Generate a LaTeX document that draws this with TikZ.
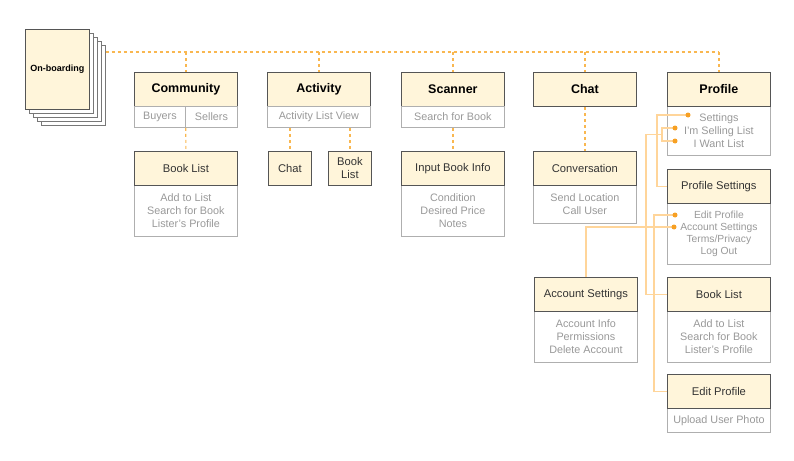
\documentclass[tikz,border=0pt]{standalone}
\usepackage{fontspec}
\setmainfont{Liberation Sans}
\usetikzlibrary{calc}
\definecolor{hdfill}{HTML}{FFF5DA}
\definecolor{edge}{HTML}{555555}
\definecolor{subedge}{HTML}{AFAFAF}
\definecolor{subtxt}{HTML}{999999}
\definecolor{txt}{HTML}{333333}
\definecolor{dotorange}{HTML}{F7A023}
\definecolor{linkorange}{HTML}{FFD59A}
\definecolor{busorange}{HTML}{F9B750}
\begin{document}
\begin{tikzpicture}[x=1pt,y=-1pt,
    hd/.style={draw=edge,fill=hdfill,line width=0.8pt,minimum width=103,minimum height=34,
        inner sep=0,anchor=north west,align=center,text=txt,font=\fontsize{11.2}{13}\selectfont},
    title/.style={hd,text=black,font=\bfseries\fontsize{12.5}{15}\selectfont},
    sb/.style={draw=subedge,fill=white,line width=0.8pt,minimum width=103,minimum height=21,
        inner sep=0,anchor=north west,align=center,text=subtxt,font=\fontsize{10.8}{13}\selectfont},
    card/.style={draw=edge!80,fill=white,line width=0.7pt,minimum width=64,minimum height=80,
        inner sep=0,anchor=north west},
    bus/.style={busorange,line width=1.2pt,dash pattern=on 3pt off 3pt},
    link/.style={linkorange,line width=1.2pt},
    dot/.style={circle,fill=dotorange,inner sep=0,minimum size=5}]
    \useasboundingbox (0,0) rectangle (794,460);
    % on-boarding stack
    \foreach \i in {4,3,2,1}{
        \node[card] (onb\i) at ({25+4*\i},{29+4*\i}) {};
    }
    \node[card,draw=edge,fill=hdfill,font=\bfseries\fontsize{9}{11}\selectfont] (onb) at (25,29) {On-boarding};
    % top level
    \node[title] (comm) at (134,72) {Community};
    \node[sb,minimum width=51] (buy) at (134,106) {Buyers};
    \node[sb,minimum width=52] (sell) at (185,106) {Sellers};
    \node[title] (act) at (267,72) {Activity};
    \node[sb] (actsub) at (267,106) {Activity List View};
    \node[title] (scan) at (401,72) {Scanner};
    \node[sb] (scansub) at (401,106) {Search for Book};
    \node[title] (chat) at (533,72) {Chat};
    \node[sb,minimum height=49] (profsub) at (667,106) {Settings\\I’m Selling List\\I Want List};
    \node[title] (prof) at (667,72) {Profile};
    % second level
    \node[sb,minimum height=51] (bl1sub) at (134,185) {Add to List\\Search for Book\\Lister’s Profile};
    \node[hd] (bl1) at (134,151) {Book List};
    \node[hd,minimum width=43] (achat) at (268,151) {Chat};
    \node[hd,minimum width=43] (abl) at (328,151) {Book\\List};
    \node[sb,minimum height=51] (ibisub) at (401,185) {Condition\\Desired Price\\Notes};
    \node[hd] (ibi) at (401,151) {Input Book Info};
    \node[sb,minimum height=38] (convsub) at (533,185) {Send Location\\Call User};
    \node[hd] (conv) at (533,151) {Conversation};
    \node[sb,minimum height=61,font=\fontsize{10.3}{12}\selectfont] (psetsub) at (667,203) {Edit Profile\\Account Settings\\Terms/Privacy\\Log Out};
    \node[hd] (pset) at (667,169) {Profile Settings};
    \node[sb,minimum height=51] (assub) at (534,311) {Account Info\\Permissions\\Delete Account};
    \node[hd] (as) at (534,277) {Account Settings};
    \node[sb,minimum height=51] (bl2sub) at (667,311) {Add to List\\Search for Book\\Lister’s Profile};
    \node[hd] (bl2) at (667,277) {Book List};
    \node[sb,minimum height=24] (epsub) at (667,408) {Upload User Photo};
    \node[hd] (ep) at (667,374) {Edit Profile};
    % dotted bus
    \coordinate (busend) at (prof.north |- 0,52);
    \draw[bus] (onb4.east |- busend) -- (busend);
    \foreach \n in {comm,act,scan,chat,prof}{
        \draw[bus] (\n.north |- busend) -- (\n.north);
    }
    \draw[bus] (buy.south east) -- (bl1.north);
    \draw[bus] (actsub.south -| achat.north) -- (achat.north);
    \draw[bus] (actsub.south -| abl.north) -- (abl.north);
    \draw[bus] (scansub.south) -- (ibi.north);
    \draw[bus] (chat.south) -- (conv.north);
    % profile links
    \coordinate (dset) at (688,115);
    \coordinate (dsell) at (675,128);
    \coordinate (dwant) at (675,141);
    \coordinate (dedit) at (675,215);
    \coordinate (dacc) at (674,227);
    \draw[link] (dset) -- ++(-31,0) |- (pset.west);
    \draw[link] (dsell) -- ++(-13,0) |- (dwant);
    \draw[link] ($(dsell)!0.5!(dwant)+(-13,0)$) -- ++(-16,0) |- (bl2.west);
    \draw[link] (dedit) -- ++(-21,0) |- (ep.west);
    \draw[link] (dacc) -| (as.north);
    \foreach \d in {dset,dsell,dwant,dedit,dacc}{
        \node[dot] at (\d) {};
    }
\end{tikzpicture}
\end{document}
